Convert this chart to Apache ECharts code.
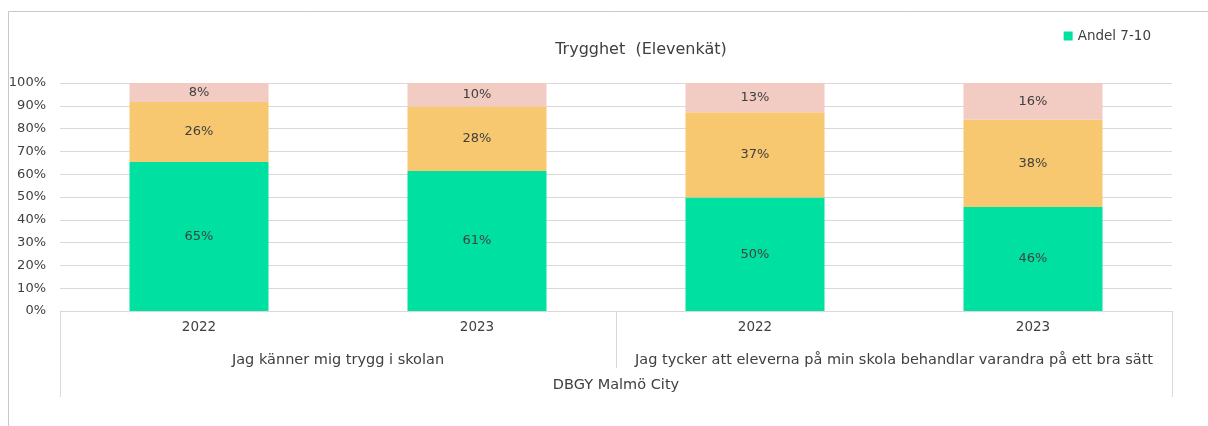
<!DOCTYPE html>
<html>
<head>
<meta charset="utf-8">
<script src="https://cdn.jsdelivr.net/npm/echarts@6/dist/echarts.min.js"></script>
<style>
html, body { margin: 0; padding: 0; background: #fff; }
#chart { width: 1208px; height: 426px; }
</style>
</head>
<body>
<div id="chart"></div>
<script>
const years = ['2022', '2023', '2022', '2023']
const questions = [
  'Jag känner mig trygg i skolan',
  'Jag tycker att eleverna på min skola behandlar varandra på ett bra sätt'
]
const school = ['DBGY Malmö City']
const yTicks = [0, 10, 20, 30, 40, 50, 60, 70, 80, 90, 100]

const high = [65.3, 61.4, 49.8, 45.6]
const mid = [26.4, 28.3, 37.4, 38.4]
const low = [8.3, 10.3, 12.8, 16.0]

const textColor = '#404040'
const lineColor = '#d9d9d9'
const font = 'DejaVu Sans'

const chart = echarts.init(document.getElementById('chart'))

const barLabel = {
  show: true,
  position: 'inside',
  color: textColor,
  fontFamily: font,
  fontSize: 13,
  formatter: p => Math.round(p.value) + '%'
}

const option = {
  animation: false,
  textStyle: { fontFamily: font, color: textColor },
  graphic: [
    {
      type: 'rect',
      shape: { x: 8.5, y: 11.5, width: 1400, height: 600 },
      style: { fill: 'none', stroke: '#c8c8c8', lineWidth: 1 },
      silent: true
    }
  ],
  title: {
    text: 'Trygghet  (Elevenkät)',
    left: 636,
    textAlign: 'center',
    top: 37,
    textStyle: { fontFamily: font, fontSize: 16, fontWeight: 'normal', color: textColor }
  },
  legend: {
    data: ['Andel 7-10'],
    right: 52,
    top: 24,
    itemWidth: 9,
    itemHeight: 9,
    icon: 'rect',
    textStyle: { fontFamily: font, fontSize: 13.5, color: textColor }
  },
  grid: { left: 60, right: 36, top: 83, bottom: 115 },
  xAxis: [
    {
      type: 'category',
      data: years,
      position: 'bottom',
      axisLine: { show: true, lineStyle: { color: lineColor } },
      axisTick: { show: false },
      axisLabel: { interval: 0, margin: 9, fontSize: 13.5, color: textColor, fontFamily: font }
    },
    {
      type: 'category',
      data: questions,
      position: 'bottom',
      axisLine: { show: false },
      axisTick: { show: true, interval: 0, length: 57, lineStyle: { color: lineColor } },
      axisLabel: { interval: 0, margin: 42, fontSize: 14.5, color: textColor, fontFamily: font }
    },
    {
      type: 'category',
      data: school,
      position: 'bottom',
      axisLine: { show: false },
      axisTick: { show: true, interval: 0, length: 86, lineStyle: { color: lineColor } },
      axisLabel: { interval: 0, margin: 67, fontSize: 14.5, color: textColor, fontFamily: font }
    }
  ],
  yAxis: {
    type: 'value',
    min: yTicks[0],
    max: yTicks[yTicks.length - 1],
    interval: 10,
    axisLine: { show: false },
    axisTick: { show: false },
    splitLine: { lineStyle: { color: lineColor } },
    axisLabel: { margin: 14, fontSize: 13, color: textColor, fontFamily: font, formatter: '{value}%' }
  },
  series: [
    {
      name: 'Andel 7-10',
      type: 'bar',
      stack: 'total',
      xAxisIndex: 0,
      barCategoryGap: '50%',
      data: high,
      itemStyle: { color: '#00e0a0' },
      label: barLabel
    },
    {
      name: 'Andel 4-6',
      type: 'bar',
      stack: 'total',
      xAxisIndex: 0,
      data: mid,
      itemStyle: { color: '#f8c870' },
      label: barLabel
    },
    {
      name: 'Andel 1-3',
      type: 'bar',
      stack: 'total',
      xAxisIndex: 0,
      data: low,
      itemStyle: { color: '#f2ccc3' },
      label: barLabel
    }
  ]
}

chart.setOption(option)
</script>
</body>
</html>
